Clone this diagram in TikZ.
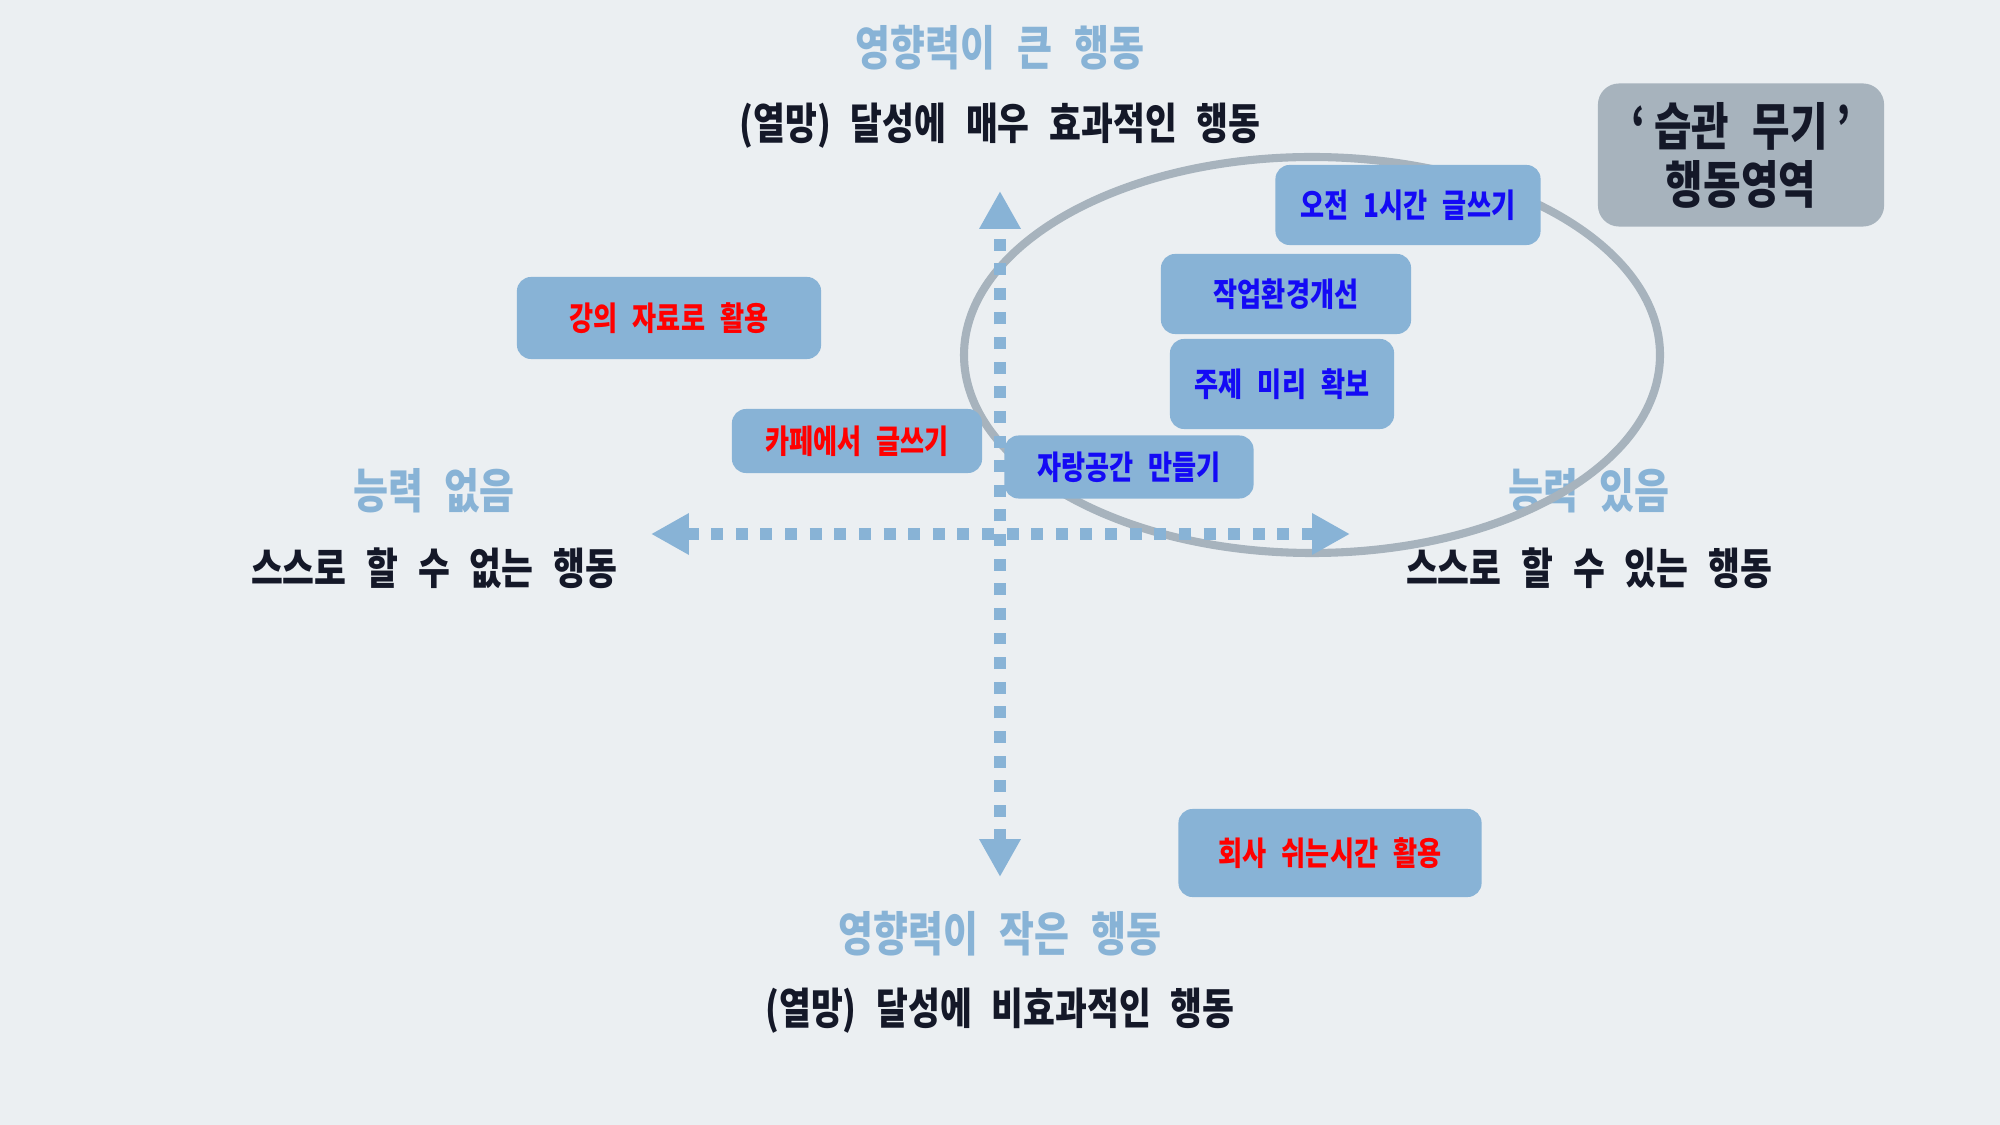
\documentclass[tikz,border=0pt]{standalone}
\usepackage{fontspec}
\newfontfamily\kr[FakeStretch=0.8,WordSpace=2.5]{Noto Sans CJK KR}
\usetikzlibrary{arrows.meta}

\begin{document}
\begin{tikzpicture}[x=0.01cm,y=-0.01cm,>={Triangle[length=10.8pt,width=11.1pt]},
  every node/.style={font=\kr},
  axislabel/.style={text=axisblue,font=\kr\bfseries\fontsize{13.5pt}{17pt}\selectfont},
  axisnote/.style={text=notedark,font=\kr\bfseries\fontsize{12.3pt}{14pt}\selectfont},
  actionbox/.style={fill=axisblue,rounded corners=4pt,inner sep=0pt,
    font=\kr\bfseries\fontsize{9.3pt}{12pt}\selectfont},
  goodact/.style={actionbox,text=actblue},
  badact/.style={actionbox,text=actred},
  habitbox/.style={fill=ringgray,rounded corners=6pt,inner sep=0pt,align=center,
    text=notedark,font=\kr\bfseries\fontsize{14.5pt}{16.5pt}\selectfont},
  axisline/.style={axisblue,line width=3.6pt,dash pattern=on 3.4pt off 3.6pt,<->},
  ringline/.style={ringgray,line width=2.3pt}]
  \definecolor{bgcol}{RGB}{235,239,242}
  \definecolor{axisblue}{RGB}{136,179,214}
  \definecolor{ringgray}{RGB}{167,179,189}
  \definecolor{notedark}{RGB}{20,24,40}
  \definecolor{actblue}{RGB}{20,10,245}
  \definecolor{actred}{RGB}{255,0,0}
  \fill[bgcol] (0,0) rectangle (2000,1125);
  \node[axislabel] (hightitle) at (1000,48) {영향력이 큰 행동};
  \node[axisnote] (highsub) at (1000,126) {(열망) 달성에 매우 효과적인 행동};
  \node[axislabel] (lowtitle) at (1000,934) {영향력이 작은 행동};
  \node[axisnote] (lowsub) at (1000,1011) {(열망) 달성에 비효과적인 행동};
  \node[axislabel] (lefttitle) at (434,491) {능력 없음};
  \node[axisnote] (leftsub) at (434,568) {스스로 할 수 없는 행동};
  \node[axislabel] (righttitle) at (1589,491) {능력 있음};
  \node[axisnote] (rightsub) at (1589,568) {스스로 할 수 있는 행동};
  \draw[ringline] (1312,355) ellipse [x radius=348, y radius=198];
  \coordinate (axtop) at (1000,191);
  \coordinate (axbot) at (1000,877);
  \coordinate (axleft) at (651,534);
  \coordinate (axright) at (1350,534);
  \draw[axisline] (axbot) -- (axtop);
  \draw[axisline] (axleft) -- (axright);
  \node[goodact,minimum width=2.65cm,minimum height=.8cm] (morning) at (1408,205) {오전 1시간 글쓰기};
  \node[goodact,minimum width=2.5cm,minimum height=.8cm] (workenv) at (1286,294) {작업환경개선};
  \node[goodact,minimum width=2.24cm,minimum height=.9cm] (topic) at (1282,384) {주제 미리 확보};
  \node[goodact,minimum width=2.49cm,minimum height=.63cm] (pride) at (1129,467) {자랑공간 만들기};
  \node[badact,minimum width=3.04cm,minimum height=.82cm] (lecture) at (669,318) {강의 자료로 활용};
  \node[badact,minimum width=2.5cm,minimum height=.64cm] (cafe) at (857,441) {카페에서 글쓰기};
  \node[badact,minimum width=3.03cm,minimum height=.88cm] (breaktime) at (1330,853) {회사 쉬는시간 활용};
  \node[habitbox,minimum width=2.86cm,minimum height=1.43cm] (habit) at (1741,155) {‘\,습관 무기\,’\\행동영역};
\end{tikzpicture}
\end{document}
